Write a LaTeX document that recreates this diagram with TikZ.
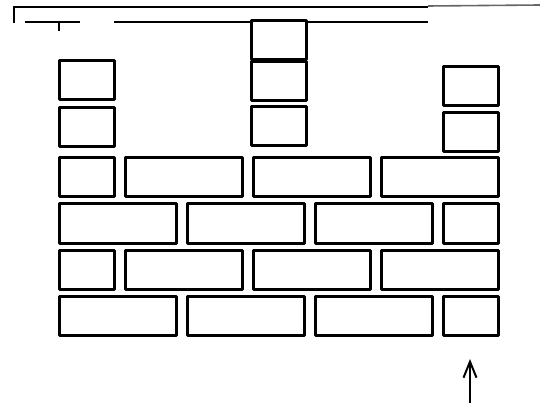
\documentclass[tikz,border=0pt]{standalone}
\usepackage{tikz}
\usetikzlibrary{arrows.meta}
\tikzset{
  brick/.style={draw=black, fill=white, line width=3pt, line join=round},
  rail/.style={draw=black, line width=2.4pt}
}
\begin{document}
\begin{tikzpicture}[x=1pt, y=-1pt]
    \useasboundingbox (0,0) rectangle (540,403);
    % Top rails
    \draw[rail] (14,23) -- (14,7) -- (428,7);
    \draw[line width=1.6pt, black!60] (428,6) -- (540,5);
    \draw[rail] (25,22) -- (80,22);
    \draw[rail] (59,22) -- (59,31);
    \draw[rail] (114,22) -- (428,22);
    % Towers (left, middle, right)
    \foreach \ty in {61,108} {
      \draw[brick] (59,\ty) rectangle ++(55,39);
    }
    \foreach \ty in {21,62,107} {
      \draw[brick] (251,\ty) rectangle ++(55,39);
    }
    \foreach \ty in {67,113} {
      \draw[brick] (443,\ty) rectangle ++(55,39);
    }
    % Wall rows starting with a half brick
    \foreach \ry in {158,250} {
      \foreach \bx/\bw in {59/55,125/117,253/117,381/117} {
        \draw[brick] (\bx,\ry) rectangle ++(\bw,39);
      }
    }
    % Wall rows ending with a half brick
    \foreach \ry in {204,296} {
      \foreach \bx/\bw in {59/117,187/117,315/117,443/55} {
        \draw[brick] (\bx,\ry) rectangle ++(\bw,39);
      }
    }
    % Arrow under the last brick
    \coordinate (arrowtail) at (470,403);
    \coordinate (arrowtip) at (470,359);
    \draw[line width=2pt, -{Straight Barb[length=16pt, width=13pt]}] (arrowtail) -- (arrowtip);
\end{tikzpicture}
\end{document}
